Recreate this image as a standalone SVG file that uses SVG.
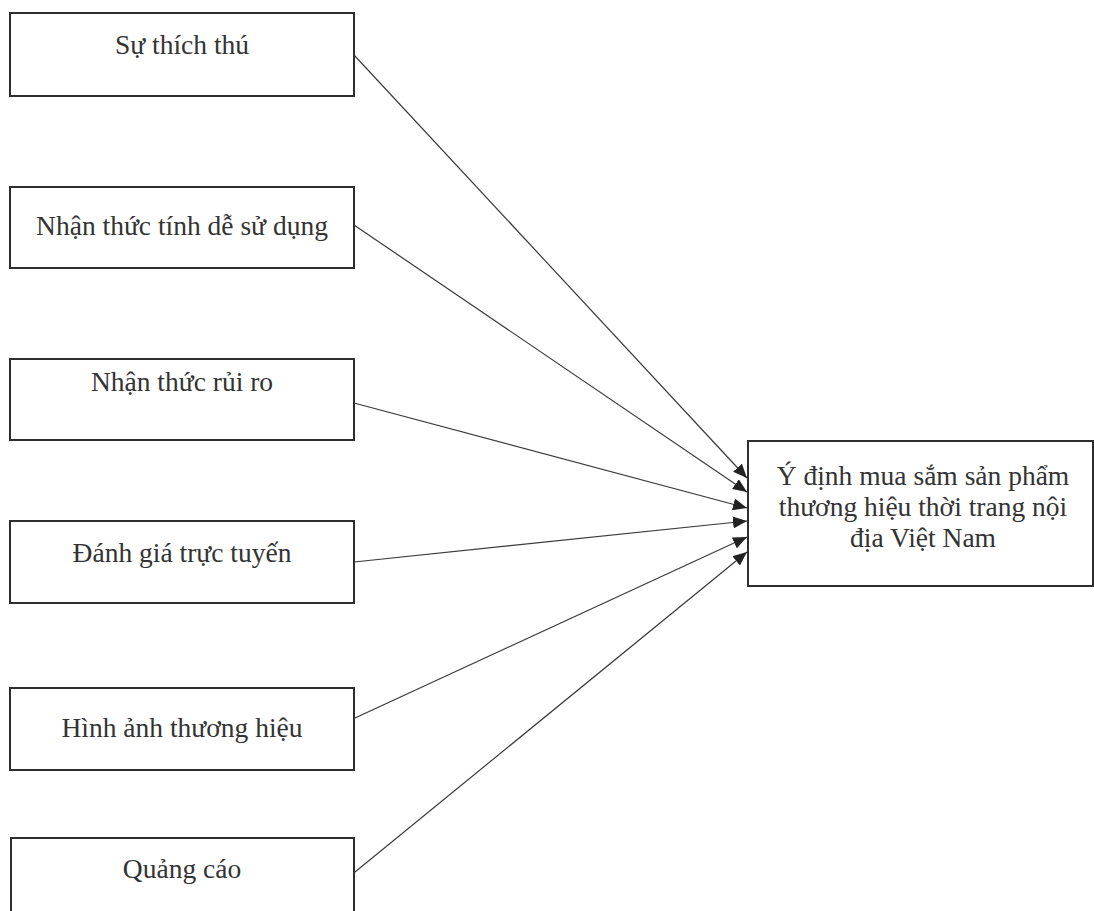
<svg xmlns="http://www.w3.org/2000/svg" width="1094" height="911" viewBox="0 0 1094 911">
<defs>
<style>
.box{fill:#fff;stroke:#2e2e2e;stroke-width:2}
.lbl{font-family:"Liberation Serif","Times New Roman",serif;font-size:27.5px;fill:#333;text-anchor:middle}
.edge{stroke:#3a3a3a;stroke-width:1.2;fill:none;marker-end:url(#ah)}
</style>
<marker id="ah" viewBox="0 0 14 12" refX="14" refY="6" markerWidth="14" markerHeight="12" markerUnits="userSpaceOnUse" orient="auto">
<path d="M0,0 L14,6 L0,12 Z" fill="#222"/>
</marker>
</defs>
<rect width="1094" height="911" fill="#fff"/>
<g id="connectors">
<line class="edge" x1="354" y1="55" x2="747" y2="478"/>
<line class="edge" x1="354" y1="225" x2="747" y2="492"/>
<line class="edge" x1="354" y1="403" x2="747" y2="508"/>
<line class="edge" x1="354" y1="562" x2="747" y2="521"/>
<line class="edge" x1="355" y1="718" x2="747" y2="537"/>
<line class="edge" x1="355" y1="872" x2="747" y2="552"/>
</g>
<g id="n1"><rect class="box" x="10" y="13" width="344" height="83"/><text class="lbl" x="182" y="54">Sự thích thú</text></g>
<g id="n2"><rect class="box" x="10" y="187" width="344" height="81"/><text class="lbl" x="182" y="235">Nhận thức tính dễ sử dụng</text></g>
<g id="n3"><rect class="box" x="10" y="359" width="344" height="81"/><text class="lbl" x="182" y="391">Nhận thức rủi ro</text></g>
<g id="n4"><rect class="box" x="10" y="521" width="344" height="82"/><text class="lbl" x="182" y="562">Đánh giá trực tuyến</text></g>
<g id="n5"><rect class="box" x="10" y="688" width="344" height="82"/><text class="lbl" x="182" y="737">Hình ảnh thương hiệu</text></g>
<g id="n6"><rect class="box" x="11" y="838" width="343" height="90"/><text class="lbl" x="182" y="878">Quảng cáo</text></g>
<g id="target"><rect class="box" x="748" y="441" width="345" height="145"/>
<text class="lbl" x="923" y="485">Ý định mua sắm sản phẩm</text>
<text class="lbl" x="923" y="516">thương hiệu thời trang nội</text>
<text class="lbl" x="923" y="547">địa Việt Nam</text></g>
</svg>
